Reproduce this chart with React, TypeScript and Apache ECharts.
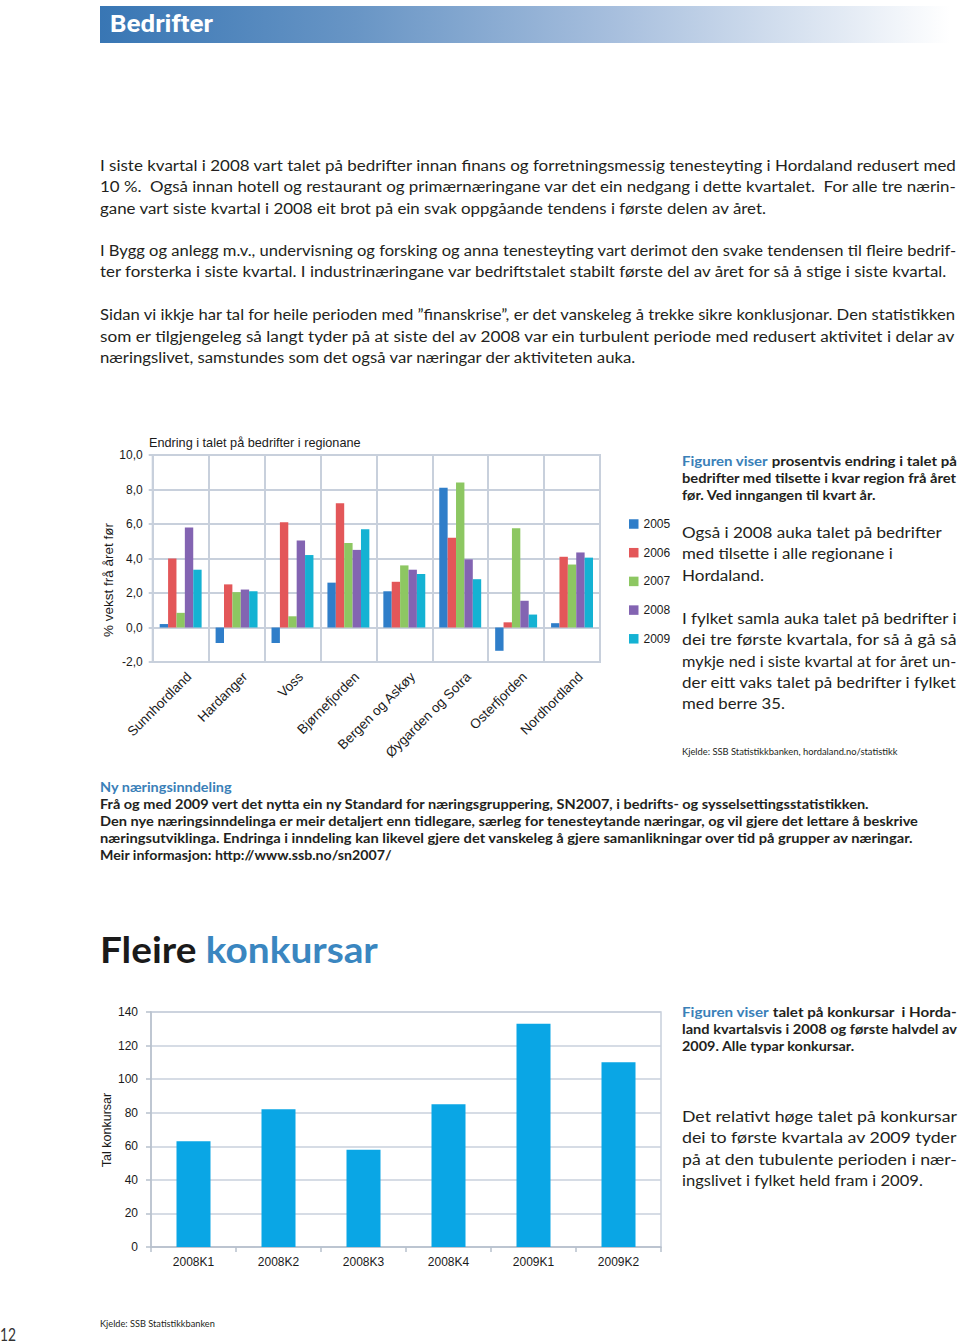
import React, { useEffect, useRef } from "react";
import * as echarts from "echarts";

// ---------- data ----------
const regions = [
  "Sunnhordland",
  "Hardanger",
  "Voss",
  "Bjørnefjorden",
  "Bergen og Askøy",
  "Øygarden og Sotra",
  "Osterfjorden",
  "Nordhordland",
];
const years = ["2005", "2006", "2007", "2008", "2009"];
const v2005 = [0.2, -0.9, -0.9, 2.6, 2.1, 8.1, -1.35, 0.25];
const v2006 = [4.0, 2.5, 6.1, 7.2, 2.65, 5.2, 0.3, 4.1];
const v2007 = [0.85, 2.05, 0.65, 4.9, 3.6, 8.4, 5.75, 3.65];
const v2008 = [5.8, 2.2, 5.05, 4.5, 3.35, 3.95, 1.55, 4.35];
const v2009 = [3.35, 2.1, 4.2, 5.7, 3.1, 2.8, 0.75, 4.05];
const growthByYear = [v2005, v2006, v2007, v2008, v2009];
const growthMin = -2;
const growthMax = 10;
const growthStep = 2;

const quarters = ["2008K1", "2008K2", "2008K3", "2008K4", "2009K1", "2009K2"];
const konkursar = [63, 82, 58, 85, 133, 110];
const konkMin = 0;
const konkMax = 140;
const konkStep = 20;

// ---------- styles ----------
const yearColors = ["#2f7ec9", "#e35759", "#8dc762", "#8364b2", "#14b2d3"];
const konkColor = "#0aa6e5";
const gridColor = "#c8d0dc";
const textDark = "#231f20";
const blue = "#3a80b8";
const chartFont = "Liberation Sans, Arial, sans-serif";
const bodyFont = "Lato";

type Line = { t: string; y: number; w: number; pre?: string };
type Block = {
  x: number;
  size: number;
  weight: string | number;
  family: string;
  fill: string;
  preFill?: string;
  lines: Line[];
};

let measureCtx: CanvasRenderingContext2D | null = null;
function measure(text: string, size: number, weight: string | number, family: string) {
  if (!measureCtx) measureCtx = document.createElement("canvas").getContext("2d");
  if (!measureCtx) return text.length * size * 0.5;
  measureCtx.font = `${weight} ${size}px ${family}`;
  return measureCtx.measureText(text).width;
}

function blockEls(b: Block): any[] {
  return b.lines.map((l) => {
    const full = (l.pre ?? "") + l.t;
    const natural = measure(full, b.size, b.weight, b.family);
    const sx = natural > 0 ? l.w / natural : 1;
    const style: any = {
      text: l.pre ? `{p|${l.pre}}${l.t}` : l.t,
      fill: b.fill,
      fontSize: b.size,
      fontWeight: b.weight,
      fontFamily: b.family,
      align: "left",
      verticalAlign: "middle",
    };
    if (l.pre) {
      style.rich = {
        p: { fill: b.preFill, fontSize: b.size, fontWeight: b.weight, fontFamily: b.family },
      };
    }
    return { type: "text", x: b.x, y: l.y, scaleX: sx, silent: true, style };
  });
}

const textBlocks: Block[] = [
  {
    x: 110, size: 23, weight: "bold", family: "Roboto", fill: "#ffffff",
    lines: [{ t: "Bedrifter", y: 24, w: 103 }],
  },
  {
    x: 100, size: 16, weight: "normal", family: bodyFont, fill: textDark,
    lines: [
      { t: "I siste kvartal i 2008 vart talet på bedrifter innan finans og forretningsmessig tenesteyting i Hordaland redusert med", y: 165, w: 857 },
      { t: "10 %.  Også innan hotell og restaurant og primærnæringane var det ein nedgang i dette kvartalet.  For alle tre nærin-", y: 186, w: 857 },
      { t: "gane vart siste kvartal i 2008 eit brot på ein svak oppgåande tendens i første delen av året.", y: 208, w: 667 },
      { t: "I Bygg og anlegg m.v., undervisning og forsking og anna tenesteyting vart derimot den svake tendensen til fleire bedrif-", y: 250, w: 857 },
      { t: "ter forsterka i siste kvartal. I industrinæringane var bedriftstalet stabilt første del av året for så å stige i siste kvartal.", y: 271, w: 848 },
      { t: "Sidan vi ikkje har tal for heile perioden med ”finanskrise”, er det vanskeleg å trekke sikre konklusjonar. Den statistikken", y: 314, w: 857 },
      { t: "som er tilgjengeleg så langt tyder på at siste del av 2008 var ein turbulent periode med redusert aktivitet i delar av", y: 336, w: 857 },
      { t: "næringslivet, samstundes som det også var næringar der aktiviteten auka.", y: 357, w: 537 },
    ],
  },
  {
    x: 682, size: 12.5, weight: "bold", family: bodyFont, fill: textDark, preFill: blue,
    lines: [
      { pre: "Figuren viser", t: " prosentvis endring i talet på", y: 461, w: 275 },
      { t: "bedrifter med tilsette i kvar region frå året", y: 478, w: 275 },
      { t: "før. Ved inngangen til kvart år.", y: 495, w: 194 },
    ],
  },
  {
    x: 682, size: 16, weight: "normal", family: bodyFont, fill: textDark,
    lines: [
      { t: "Også i 2008 auka talet på bedrifter", y: 532, w: 260 },
      { t: "med tilsette i alle regionane i", y: 553, w: 211 },
      { t: "Hordaland.", y: 575, w: 82 },
      { t: "I fylket samla auka talet på bedrifter i", y: 618, w: 275 },
      { t: "dei tre første kvartala, for så å gå så", y: 639, w: 275 },
      { t: "mykje ned i siste kvartal at for året un-", y: 661, w: 275 },
      { t: "der eitt vaks talet på bedrifter i fylket", y: 682, w: 275 },
      { t: "med berre 35.", y: 703, w: 103 },
    ],
  },
  {
    x: 682, size: 9.5, weight: "normal", family: bodyFont, fill: textDark,
    lines: [{ t: "Kjelde: SSB Statistikkbanken, hordaland.no/statistikk", y: 751, w: 216 }],
  },
  {
    x: 100, size: 13, weight: "bold", family: bodyFont, fill: blue,
    lines: [{ t: "Ny næringsinndeling", y: 787, w: 132 }],
  },
  {
    x: 100, size: 13, weight: "bold", family: bodyFont, fill: textDark,
    lines: [
      { t: "Frå og med 2009 vert det nytta ein ny Standard for næringsgruppering, SN2007, i bedrifts- og sysselsettingsstatistikken.", y: 804, w: 771 },
      { t: "Den nye næringsinndelinga er meir detaljert enn tidlegare, særleg for tenesteytande næringar, og vil gjere det lettare å beskrive", y: 821, w: 820 },
      { t: "næringsutviklinga. Endringa i inndeling kan likevel gjere det vanskeleg å gjere samanlikningar over tid på grupper av næringar.", y: 838, w: 815 },
      { t: "Meir informasjon: http://www.ssb.no/sn2007/", y: 855, w: 292 },
    ],
  },
  {
    x: 682, size: 12.5, weight: "bold", family: bodyFont, fill: textDark, preFill: blue,
    lines: [
      { pre: "Figuren viser", t: " talet på konkursar  i Horda-", y: 1012, w: 275 },
      { t: "land kvartalsvis i 2008 og første halvdel av", y: 1029, w: 275 },
      { t: "2009. Alle typar konkursar.", y: 1046, w: 173 },
    ],
  },
  {
    x: 682, size: 16, weight: "normal", family: bodyFont, fill: textDark,
    lines: [
      { t: "Det relativt høge talet på konkursar", y: 1116, w: 275 },
      { t: "dei to første kvartala av 2009 tyder", y: 1137, w: 275 },
      { t: "på at den tubulente perioden i nær-", y: 1159, w: 275 },
      { t: "ingslivet i fylket held fram i 2009.", y: 1180, w: 241 },
    ],
  },
  {
    x: 100, size: 9.5, weight: "normal", family: bodyFont, fill: textDark,
    lines: [{ t: "Kjelde: SSB Statistikkbanken", y: 1323, w: 115 }],
  },
  {
    x: 0, size: 17, weight: "normal", family: bodyFont, fill: "#333333",
    lines: [{ t: "12", y: 1334, w: 16 }],
  },
];

function headingEl(): any {
  const size = 37;
  const a = "Fleire ";
  const b = "konkursar";
  const natural = measure(a + b, size, "bold", bodyFont);
  return {
    type: "text",
    x: 100,
    y: 949,
    scaleX: 278 / natural,
    silent: true,
    style: {
      text: `${a}{p|${b}}`,
      fill: "#1a1a1a",
      fontSize: size,
      fontWeight: "bold",
      fontFamily: bodyFont,
      align: "left",
      verticalAlign: "middle",
      rich: { p: { fill: "#3a86c0", fontSize: size, fontWeight: "bold", fontFamily: bodyFont } },
    },
  };
}

function buildOption(): any {
  const graphics: any[] = [
    {
      type: "rect",
      silent: true,
      shape: { x: 100, y: 6, width: 850, height: 37 },
      style: {
        fill: new echarts.graphic.LinearGradient(0, 0, 1, 0, [
          { offset: 0, color: "#3876b4" },
          { offset: 0.3, color: "#6895c5" },
          { offset: 0.6, color: "#a6bedd" },
          { offset: 0.85, color: "#dde6f2" },
          { offset: 1, color: "#ffffff" },
        ]),
      },
    },
  ];
  textBlocks.forEach((b) => graphics.push(...blockEls(b)));
  graphics.push(headingEl());
  // chart titles / axis names
  graphics.push({
    type: "text",
    x: 149,
    y: 443,
    silent: true,
    style: {
      text: "Endring i talet på bedrifter i regionane",
      fill: "#1a1a1a",
      fontSize: 12.7,
      fontFamily: chartFont,
      align: "left",
      verticalAlign: "middle",
    },
  });
  graphics.push({
    type: "text",
    x: 108,
    y: 580,
    rotation: Math.PI / 2,
    silent: true,
    style: {
      text: "% vekst frå året før",
      fill: "#1a1a1a",
      fontSize: 13.5,
      fontFamily: chartFont,
      align: "center",
      verticalAlign: "middle",
    },
  });
  graphics.push({
    type: "text",
    x: 107,
    y: 1130,
    rotation: Math.PI / 2,
    silent: true,
    style: {
      text: "Tal konkursar",
      fill: "#1a1a1a",
      fontSize: 12.5,
      fontFamily: chartFont,
      align: "center",
      verticalAlign: "middle",
    },
  });

  return {
    animation: false,
    backgroundColor: "#ffffff",
    textStyle: { fontFamily: chartFont },
    graphic: { elements: graphics },
    legend: {
      data: years,
      orient: "vertical",
      left: 624,
      top: 513,
      itemWidth: 9.5,
      itemHeight: 9.5,
      itemGap: 16.7,
      icon: "rect",
      textStyle: { fontSize: 12, lineHeight: 12, color: "#1a1a1a", fontFamily: chartFont },
      selectedMode: false,
    },
    grid: [
      {
        left: 152.7,
        top: 455,
        width: 447.3,
        height: 207,
        show: true,
        borderColor: gridColor,
        borderWidth: 2,
      },
      {
        left: 151,
        top: 1012,
        width: 510,
        height: 235,
        show: true,
        borderColor: gridColor,
        borderWidth: 1.5,
      },
    ],
    xAxis: [
      {
        type: "category",
        gridIndex: 0,
        data: regions,
        axisLine: { show: false },
        axisTick: { show: false },
        splitLine: { show: true, interval: 0, lineStyle: { color: gridColor, width: 2 } },
        axisLabel: {
          interval: 0,
          rotate: 45,
          fontSize: 13.5,
          color: "#1a1a1a",
          fontFamily: chartFont,
          margin: 4,
          align: "right",
          verticalAlign: "top",
          lineHeight: 24,
        },
      },
      {
        type: "category",
        gridIndex: 1,
        data: quarters,
        axisLine: { show: true, lineStyle: { color: "#b7c0cc", width: 1.5 } },
        axisTick: { show: true, length: 5, lineStyle: { color: "#b7c0cc", width: 1.5 } },
        splitLine: { show: false },
        axisLabel: { fontSize: 12, color: "#1a1a1a", fontFamily: chartFont, margin: 9 },
      },
    ],
    yAxis: [
      {
        type: "value",
        gridIndex: 0,
        min: growthMin,
        max: growthMax,
        interval: growthStep,
        axisLine: { show: false },
        axisTick: { show: true, length: 4, lineStyle: { color: gridColor, width: 2 } },
        splitLine: { show: true, lineStyle: { color: gridColor, width: 2 } },
        axisLabel: {
          fontSize: 12,
          color: "#1a1a1a",
          fontFamily: chartFont,
          margin: 10,
          formatter: (v: number) => v.toFixed(1).replace(".", ","),
        },
      },
      {
        type: "value",
        gridIndex: 1,
        min: konkMin,
        max: konkMax,
        interval: konkStep,
        axisLine: { show: true, lineStyle: { color: "#b7c0cc", width: 1.5 } },
        axisTick: { show: true, length: 5, lineStyle: { color: "#b7c0cc", width: 1.5 } },
        splitLine: { show: true, lineStyle: { color: gridColor, width: 1.5 } },
        axisLabel: { fontSize: 12, color: "#1a1a1a", fontFamily: chartFont, margin: 13 },
      },
    ],
    series: [
      ...years.map((y, i) => ({
        name: y,
        type: "bar",
        xAxisIndex: 0,
        yAxisIndex: 0,
        data: growthByYear[i],
        barGap: "0%",
        barCategoryGap: "25%",
        itemStyle: { color: yearColors[i] },
        silent: true,
      })),
      {
        name: "Konkursar",
        type: "bar",
        xAxisIndex: 1,
        yAxisIndex: 1,
        data: konkursar,
        barWidth: 34,
        itemStyle: { color: konkColor },
        silent: true,
      },
    ],
  };
}

export default function App() {
  const ref = useRef<HTMLDivElement>(null);
  useEffect(() => {
    if (!ref.current) return;
    const chart = echarts.init(ref.current, undefined, { renderer: "svg" });
    chart.setOption(buildOption());
    return () => chart.dispose();
  }, []);
  return (
    <div
      ref={ref}
      style={{ position: "absolute", left: 0, top: 0, width: 960, height: 1343, background: "#fff" }}
    />
  );
}
